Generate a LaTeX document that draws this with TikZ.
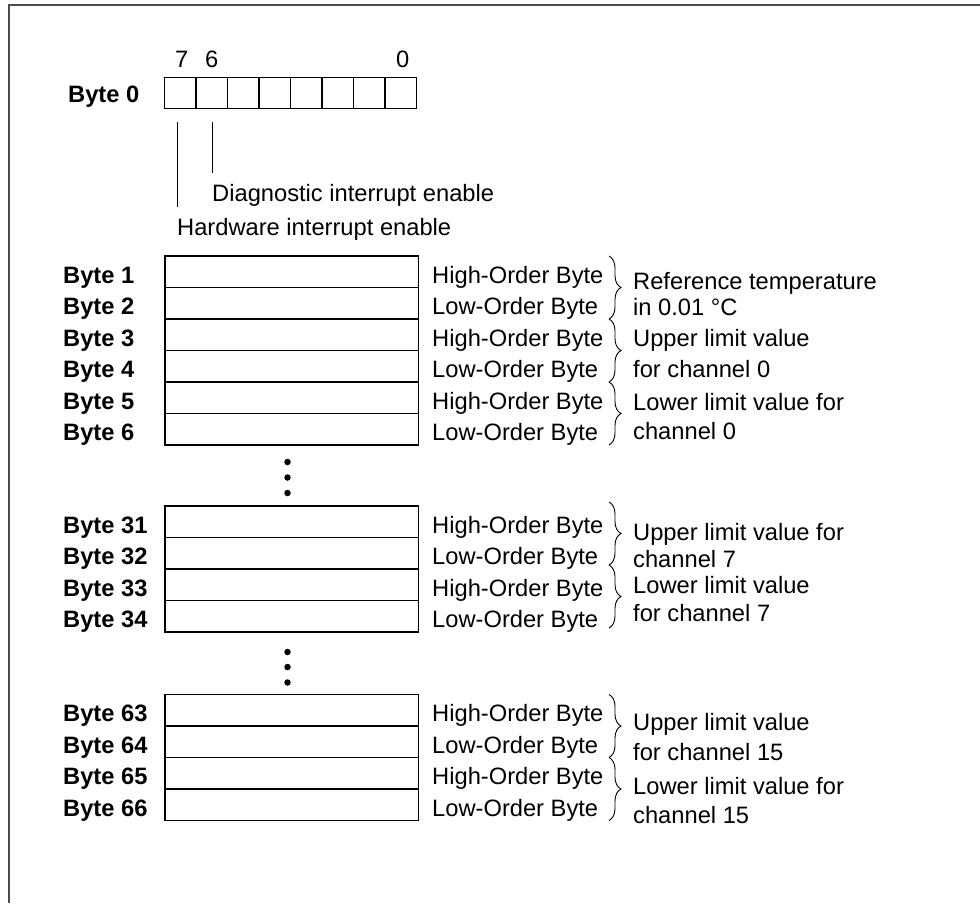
\documentclass[tikz,border=0pt]{standalone}
\usepackage{fontspec}
\setmainfont{Liberation Sans}
\usetikzlibrary{positioning, decorations.pathreplacing}
\newcommand{\txtsize}{\fontsize{23.7}{28}\selectfont}
\tikzset{
  cell/.style={draw, line width=1.2pt, minimum width=31.5pt, minimum height=31.5pt, inner sep=0pt, outer sep=0pt},
  wordrow/.style={draw, line width=1.2pt, minimum width=253.5pt, minimum height=31.5pt, inner sep=0pt, outer sep=0pt},
  bytelbl/.style={font=\txtsize\bfseries, anchor=base west, inner sep=0pt},
  plainlbl/.style={font=\txtsize, anchor=base west, inner sep=0pt},
  bitnum/.style={font=\txtsize, anchor=base, inner sep=0pt},
  bitline/.style={line width=1pt},
  grpbrace/.style={decorate, decoration={brace, amplitude=12pt}, line width=0.9pt},
  dotmark/.style={circle, fill, inner sep=0pt, minimum size=6.5pt},
  framegray/.style={draw=black!70, line width=1.8pt},
}

\begin{document}
\begin{tikzpicture}[x=1pt, y=-1pt]
\useasboundingbox (0,0) rectangle (980,903);

% ============================================================ frame
\draw[framegray] (9,903) -- (9,5) -- (980,5);

% ============================================================ byte 0
\node[bytelbl] (lbl0) at (68,102) {Byte 0};
\foreach \b in {7,...,0}
  \node[cell, anchor=north west] (bit\b) at (164.5+31.5*7-31.5*\b, 77.3) {};
\node[bitnum] (d7) at ([xshift=1.5pt, yshift=10pt]bit7.north) {7};
\node[bitnum] (d6) at ([yshift=10pt]bit6.north) {6};
\node[bitnum] (d0) at ([xshift=2pt, yshift=10pt]bit0.north) {0};

\node[plainlbl] (diaglbl) at (212,201.7) {Diagnostic interrupt enable};
\node[plainlbl] (hwlbl) at (177,235) {Hardware interrupt enable};
\draw[bitline, shorten <=13pt, shorten >=11pt] (diaglbl.north west |- bit6.south) -- (diaglbl.north west);
\draw[bitline, shorten <=13pt, shorten >=11pt] (hwlbl.north west |- bit7.south) -- (hwlbl.north west);

% ============================================================ word rows
\foreach \n/\top/\ord in {1/256/High, 2/287.5/Low, 3/319/High, 4/350.5/Low, 5/382/High, 6/413.5/Low,
    31/506/High, 32/537.5/Low, 33/569/High, 34/600.5/Low,
    63/694.5/High, 64/726/Low, 65/757.5/High, 66/789/Low} {
  \node[wordrow, anchor=north west] (row\n) at (165,\top) {};
  \node[bytelbl] (lbl\n) at (63,\top+27) {Byte \n};
  \node[plainlbl] (ord\n) at (432,\top+27) {\ord-Order Byte};
}

% skipped bytes
\foreach \y [count=\i] in {462,477.5,493,652,667,682.5}
  \node[dotmark] (dot\i) at (287.5,\y) {};

% ============================================================ braces
\coordinate (brx) at (609,0);
\draw[grpbrace] (row1.north west -| brx) -- (row2.south west -| brx);
\draw[grpbrace] (row3.north west -| brx) -- (row4.south west -| brx);
\draw[grpbrace] (row5.north west -| brx) -- (row6.south west -| brx);
\draw[grpbrace] ([yshift=4pt]row31.north west -| brx) -- ([yshift=4pt]row32.south west -| brx);
\draw[grpbrace] ([yshift=4pt]row33.north west -| brx) -- ([yshift=4pt]row34.south west -| brx);
\draw[grpbrace] (row63.north west -| brx) -- (row64.south west -| brx);
\draw[grpbrace] (row65.north west -| brx) -- (row66.south west -| brx);

% ============================================================ meanings
\node[plainlbl] (refa) at (633,289) {Reference temperature};
\node[plainlbl] (refb) at (633,315.5) {in 0.01 °C};
\node[plainlbl] (upa0) at (633,346) {Upper limit value};
\node[plainlbl] (upb0) at (633,377) {for channel 0};
\node[plainlbl] (loa0) at (633,410) {Lower limit value for};
\node[plainlbl] (lob0) at (633,439.5) {channel 0};

\node[plainlbl] (upa7) at (633,540) {Upper limit value for};
\node[plainlbl] (upb7) at (633,567) {channel 7};
\node[plainlbl] (loa7) at (633,593) {Lower limit value};
\node[plainlbl] (lob7) at (633,621) {for channel 7};

\node[plainlbl] (upa15) at (633,730) {Upper limit value};
\node[plainlbl] (upb15) at (633,760.5) {for channel 15};
\node[plainlbl] (loa15) at (633,794) {Lower limit value for};
\node[plainlbl] (lob15) at (633,823) {channel 15};

\end{tikzpicture}
\end{document}
